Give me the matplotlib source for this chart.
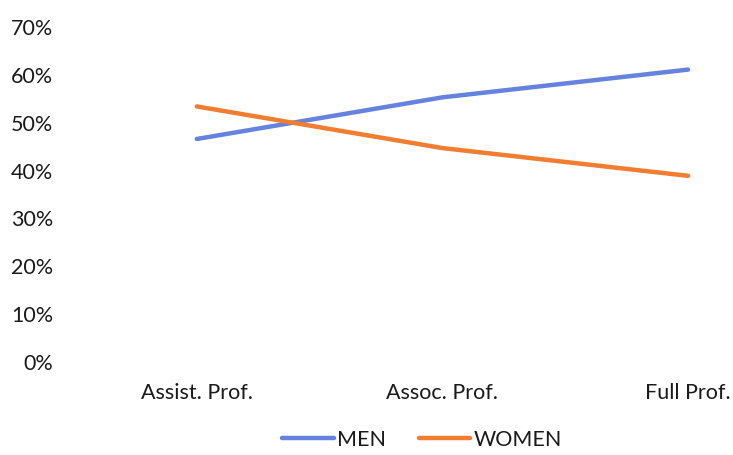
import matplotlib.pyplot as plt
from matplotlib.ticker import PercentFormatter

categories = ['Assist. Prof.', 'Assoc. Prof.', 'Full Prof.']
men = [0.466, 0.553, 0.611]
women = [0.534, 0.447, 0.389]

plt.rcParams['font.family'] = ['Lato', 'DejaVu Sans']

W, H = 733, 455
fig = plt.figure(figsize=(W / 100, H / 100), dpi=100)
# axes box in pixels: left 74, right 733, bottom 93, top 428
ax = fig.add_axes([74 / W, 93 / H, (733 - 74) / W, (428 - 93) / H])

x = range(len(categories))
ax.plot(x, men, color='#6383DE', lw=3.2, solid_capstyle='round', label='MEN')
ax.plot(x, women, color='#F27C30', lw=3.2, solid_capstyle='round', label='WOMEN')

ax.set_xlim(-0.5, 2.183)
ax.set_ylim(0, 0.7)
ax.set_yticks([i / 10 for i in range(8)])
ax.yaxis.set_major_formatter(PercentFormatter(1.0, decimals=0))
ax.set_xticks(list(x))
ax.set_xticklabels(categories)
ax.tick_params(axis='both', length=0, labelsize=15.5, colors='#1a1a1a')
ax.tick_params(axis='y', pad=15)
ax.tick_params(axis='x', pad=15)
for s in ax.spines.values():
    s.set_visible(False)

fig.legend(loc='center', bbox_to_anchor=(0.576, 15 / H), ncol=2, frameon=False,
           fontsize=15.5, handlelength=2.4, columnspacing=1.5, handletextpad=0.15,
           labelcolor='#1a1a1a')

fig.savefig('out.png', dpi=100)
